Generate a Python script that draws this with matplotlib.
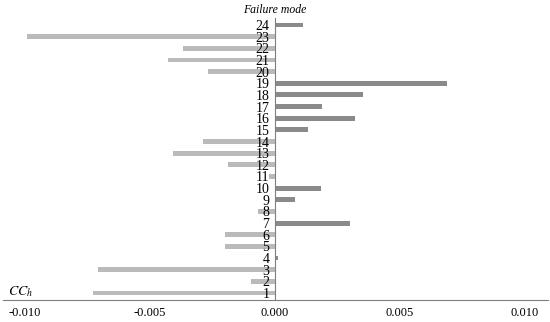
import matplotlib
matplotlib.use("Agg")
import matplotlib.pyplot as plt
import numpy as np

# failure modes 1..24 and their CC_h values
modes = list(range(1, 25))
cch = [-0.00727, -0.00097, -0.0071, 0.0001, -0.0020, -0.0020,
       0.0030, -0.00068, 0.0008, 0.00185, -0.00024, -0.0019,
       -0.0041, -0.0029, 0.0013, 0.0032, 0.00187, 0.0035,
       0.00687, -0.0027, -0.0043, -0.0037, -0.0099, 0.00113]
xticks = [-0.010, -0.005, 0.000, 0.005, 0.010]

plt.rcParams['font.family'] = ['Liberation Serif', 'DejaVu Serif']
plt.rcParams['mathtext.fontset'] = 'stix'

fig = plt.figure(figsize=(5.5, 3.22), dpi=100)
ax = fig.add_axes([3/550, 1-300/322, 545/550, 282/322])

vals = np.array(cch)
cols = np.where(vals >= 0, '#8a8a8a', '#bababa')
ax.barh(modes, vals, height=0.42, color=cols, linewidth=0, zorder=1)

ax.set_xlim(-0.01088, 0.01092)
ax.set_ylim(0.4, 24.6)

ax.set_xticks(xticks)
ax.set_xticklabels([f"{t:.3f}" for t in xticks], fontsize=9)
ax.set_yticks(modes)
ax.set_yticklabels([str(m) for m in modes], fontsize=8, color='#1e2a33')

ax.spines['top'].set_visible(False)
ax.spines['right'].set_visible(False)
ax.spines['left'].set_position(('data', 0))
ax.spines['left'].set_color('#7f7f7f')
ax.spines['bottom'].set_color('#7f7f7f')
ax.tick_params(axis='x', length=0, pad=5)
ax.tick_params(axis='y', length=0, pad=4)

fig.text(275/550, 1-10/322, 'Failure mode', style='italic', fontsize=8.5,
         ha='center', va='center')
fig.text(8/550, 1-292/322, r'$CC_h$', fontsize=10, ha='left', va='center')

fig.savefig('out.png', dpi=100)
